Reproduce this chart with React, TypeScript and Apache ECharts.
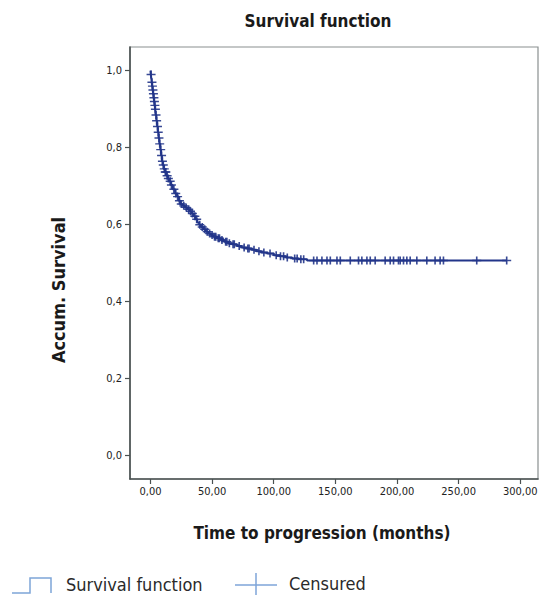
import React, { useEffect, useRef } from 'react';
import * as echarts from 'echarts';

// Kaplan-Meier step points: time (months) and survival after the event at that time
const stepTimes = [0, 0.3, 0.7, 1.0, 1.4, 1.8, 2.2, 2.6, 3.0, 3.4, 3.8, 4.2, 4.8, 5.4, 6.0, 6.6, 7.2, 8.0, 8.6, 9.3, 10.0, 10.8, 11.8, 13.0, 14.0, 15.0, 16.5, 18.0, 20.0, 21.6, 23.0, 24.3, 26.0, 28.0, 30.0, 32.0, 33.5, 35.0, 36.5, 38.0, 39.5, 41.0, 43.0, 45.0, 47.0, 49.0, 51.0, 54.0, 57.0, 60.0, 63.0, 66.0, 70.0, 74.0, 78.0, 82.0, 86.0, 90.0, 95.0, 100.0, 105.0, 110.0, 115.0, 120.0, 127.0, 289.0];
const stepSurvival = [1.0, 0.99, 0.98, 0.97, 0.96, 0.95, 0.94, 0.93, 0.92, 0.91, 0.9, 0.885, 0.87, 0.855, 0.84, 0.825, 0.81, 0.795, 0.78, 0.765, 0.755, 0.745, 0.737, 0.727, 0.72, 0.713, 0.703, 0.692, 0.681, 0.673, 0.662, 0.654, 0.649, 0.645, 0.64, 0.635, 0.629, 0.622, 0.614, 0.606, 0.6, 0.594, 0.588, 0.582, 0.577, 0.573, 0.569, 0.565, 0.56, 0.556, 0.552, 0.549, 0.545, 0.541, 0.538, 0.535, 0.531, 0.528, 0.525, 0.521, 0.518, 0.515, 0.512, 0.51, 0.507, 0.507];

// Censored observation times (months)
const censoredTimes = [0.5, 1.2, 1.6, 2.0, 2.4, 2.8, 3.2, 3.6, 4.0, 4.5, 5.0, 5.7, 6.3, 6.9, 7.5, 8.3, 9.0, 9.7, 10.4, 11.2, 12.0, 12.5, 13.5, 14.5, 16.0, 17.0, 19.0, 20.5, 22.0, 23.5, 25.0, 27.0, 29.0, 31.0, 32.5, 34.0, 36.0, 37.5, 40.0, 42.0, 44.0, 46.0, 48.0, 50.0, 52.0, 53.0, 55.0, 56.0, 58.0, 61.0, 62.0, 64.0, 67.0, 68.0, 72.0, 76.0, 79.0, 80.0, 84.0, 88.0, 92.0, 97.0, 102.0, 105.5, 108.0, 111.0, 117.0, 119.0, 122.0, 124.3, 132.4, 135.1, 139.1, 143.2, 145.9, 151.3, 154.0, 162.1, 168.8, 171.5, 175.6, 178.3, 182.3, 190.4, 194.5, 197.2, 201.2, 202.6, 205.3, 208.0, 210.7, 216.1, 224.2, 230.9, 235.0, 237.7, 264.7, 289.0];

const xTicks = [0, 50, 100, 150, 200, 250, 300];
const yTicks = [0, 0.2, 0.4, 0.6, 0.8, 1.0];

const chartTitle = 'Survival function';
const xTitle = 'Time to progression (months)';
const yTitle = 'Accum. Survival';
const legendLabels = ['Survival function', 'Censured'];

const FONT = "'Liberation Sans Narrow', 'DejaVu Sans Condensed', 'Roboto', sans-serif";
const CURVE = '#22358a';
const LEGEND_BLUE = '#7ea5d8';

function survivalAt(t: number): number {
  let s = stepSurvival[0];
  for (let i = 0; i < stepTimes.length; i++) {
    if (stepTimes[i] <= t) s = stepSurvival[i];
  }
  return s;
}

const CROSS = 'path://M0,4.1H10V5.9H0Z M4.1,0H5.9V10H4.1Z';

export default function App() {
  const ref = useRef<HTMLDivElement>(null);
  useEffect(() => {
    document.body.style.margin = '0';
    if (!ref.current) return;
    const chart = echarts.init(ref.current, undefined, { renderer: 'svg' });
    const curveData = stepTimes.map((t, i) => [t, stepSurvival[i]]);
    const censData = censoredTimes.map((t) => [t, survivalAt(t)]);
    chart.setOption({
      animation: false,
      backgroundColor: '#ffffff',
      textStyle: { fontFamily: FONT },
      grid: {
        left: 130,
        right: 1,
        top: 47,
        bottom: 116,
        show: true,
        borderColor: '#8a9090',
        borderWidth: 1.2,
        containLabel: false,
        outerBoundsMode: 'none',
      },
      xAxis: {
        type: 'value',
        min: -16.6,
        max: 314.4,
        axisLine: { show: true, onZero: false, lineStyle: { color: '#4a5151', width: 1.6 } },
        axisTick: { show: true, length: 5, customValues: xTicks, lineStyle: { color: '#4a5151', width: 1.2 } },
        axisLabel: {
          customValues: xTicks,
          margin: 7,
          fontSize: 11,
          color: '#222',
          fontFamily: FONT,
          formatter: (v: number) => v.toFixed(2).replace('.', ','),
        },
        splitLine: { show: false },
      },
      yAxis: {
        type: 'value',
        min: -0.0605,
        max: 1.0616,
        axisLine: { show: true, onZero: false, lineStyle: { color: '#4a5151', width: 1.6 } },
        axisTick: { show: true, length: 5, customValues: yTicks, lineStyle: { color: '#4a5151', width: 1.2 } },
        axisLabel: {
          customValues: yTicks,
          margin: 8,
          fontSize: 11,
          color: '#222',
          fontFamily: FONT,
          formatter: (v: number) => v.toFixed(1).replace('.', ','),
        },
        splitLine: { show: false },
      },
      series: [
        {
          name: legendLabels[0],
          type: 'line',
          step: 'end',
          data: curveData,
          showSymbol: false,
          lineStyle: { color: CURVE, width: 2 },
          z: 2,
        },
        {
          name: legendLabels[1],
          type: 'scatter',
          data: censData,
          symbol: CROSS,
          symbolSize: [9, 8],
          itemStyle: { color: CURVE, opacity: 0.9 },
          z: 3,
        },
      ],
      graphic: [
        {
          type: 'text',
          x: 318,
          y: 21,
          style: { text: chartTitle, font: `bold 17px ${FONT}`, fill: '#1a1a1a', textAlign: 'center', textVerticalAlign: 'middle' },
        },
        {
          type: 'text',
          x: 322,
          y: 533,
          style: { text: xTitle, font: `bold 17px ${FONT}`, fill: '#1a1a1a', textAlign: 'center', textVerticalAlign: 'middle' },
        },
        {
          type: 'text',
          x: 58,
          y: 290,
          rotation: Math.PI / 2,
          style: { text: yTitle, font: `bold 18px ${FONT}`, fill: '#1a1a1a', textAlign: 'center', textVerticalAlign: 'middle' },
        },
        {
          type: 'polyline',
          shape: { points: [[12, 593], [30, 593], [30, 578], [51, 578], [51, 593]] },
          style: { stroke: LEGEND_BLUE, lineWidth: 1.5, fill: null },
        },
        {
          type: 'text',
          x: 66,
          y: 584,
          style: { text: legendLabels[0], font: `18px ${FONT}`, fill: '#2a2a2a', textVerticalAlign: 'middle' },
        },
        {
          type: 'line',
          shape: { x1: 235, y1: 585, x2: 277, y2: 585 },
          style: { stroke: LEGEND_BLUE, lineWidth: 1.5 },
        },
        {
          type: 'line',
          shape: { x1: 256, y1: 573, x2: 256, y2: 595 },
          style: { stroke: LEGEND_BLUE, lineWidth: 1.5 },
        },
        {
          type: 'text',
          x: 289,
          y: 583,
          style: { text: legendLabels[1], font: `18px ${FONT}`, fill: '#2a2a2a', textVerticalAlign: 'middle' },
        },
      ],
    });
    return () => chart.dispose();
  }, []);
  return <div ref={ref} style={{ width: 539, height: 595 }} />;
}
